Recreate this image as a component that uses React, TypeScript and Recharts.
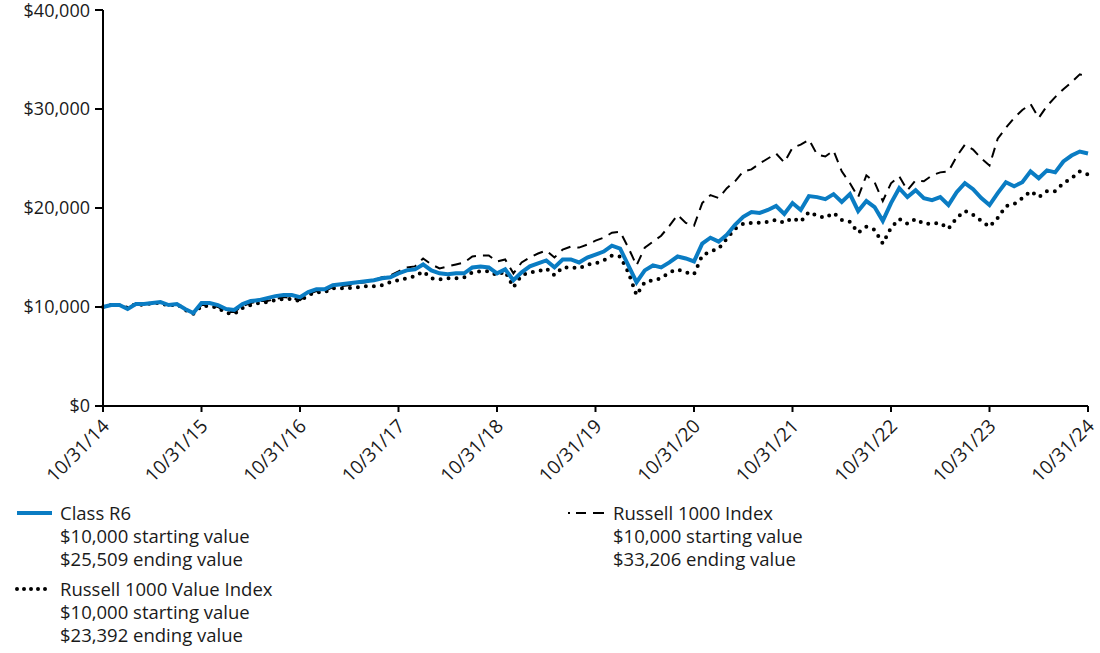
import { LineChart, Line, XAxis, YAxis } from 'recharts'

// growth of $10,000, monthly from 10/31/14 to 10/31/24
const yearLabels = ['10/31/14', '10/31/15', '10/31/16', '10/31/17', '10/31/18', '10/31/19', '10/31/20', '10/31/21', '10/31/22', '10/31/23', '10/31/24']
const yTicks = [0, 10000, 20000, 30000, 40000]

const classR6 = [
  10000, 10200, 10200, 9800, 10300, 10300, 10400, 10500, 10200, 10300, 9800, 9400,
  10400, 10400, 10200, 9800, 9700, 10300, 10600, 10700, 10900, 11100, 11200, 11200,
  11000, 11500, 11800, 11800, 12200, 12300, 12400, 12500, 12600, 12700, 12900, 13000,
  13400, 13700, 13800, 14300, 13700, 13400, 13300, 13400, 13400, 14000, 14100, 14000,
  13400, 13800, 12700, 13500, 14100, 14400, 14700, 14000, 14800, 14800, 14500, 15000,
  15300, 15600, 16200, 15900, 14200, 12500, 13700, 14200, 14000, 14500, 15100, 14900,
  14600, 16400, 17000, 16600, 17300, 18300, 19100, 19600, 19500, 19800, 20200, 19400,
  20500, 19800, 21200, 21100, 20900, 21400, 20600, 21400, 19700, 20700, 20100, 18700,
  20500, 22000, 21100, 21800, 21000, 20800, 21100, 20300, 21600, 22500, 21900, 21000,
  20300, 21500, 22600, 22200, 22600, 23700, 23000, 23800, 23600, 24700, 25300, 25700,
  25509,
]

const russell1000 = [
  10000, 10200, 10200, 9900, 10300, 10300, 10400, 10500, 10300, 10300, 9700, 9400,
  10200, 10200, 10000, 9500, 9500, 10100, 10400, 10600, 10600, 10800, 11000, 10900,
  10700, 11300, 11600, 11600, 12000, 12100, 12200, 12400, 12500, 12700, 13000, 13200,
  13600, 14000, 14100, 14900, 14300, 13900, 14100, 14300, 14500, 15100, 15200, 15200,
  14600, 14800, 13400, 14500, 15000, 15400, 15700, 15000, 15800, 16100, 16000, 16300,
  16700, 17000, 17500, 17600, 16000, 14200, 16000, 16600, 17200, 18200, 19300, 18500,
  18200, 20500, 21300, 21000, 22000, 22700, 23700, 23900, 24500, 25000, 25500, 24600,
  26100, 26400, 26900, 25400, 25200, 25800, 23700, 22500, 21100, 23300, 22600, 20700,
  22500, 23200, 21800, 22800, 22700, 23300, 23600, 23700, 25200, 26400, 25900, 25000,
  24300, 27000, 28100, 29100, 29900, 30500, 29100, 30300, 31200, 32000, 32700, 33500,
  33206,
]

const russell1000Value = [
  10000, 10200, 10200, 9900, 10300, 10200, 10400, 10400, 10100, 10300, 9700, 9300,
  10100, 10100, 9900, 9400, 9300, 9900, 10200, 10400, 10500, 10700, 10800, 10800,
  10600, 11200, 11500, 11500, 11900, 11900, 11900, 12000, 12100, 12100, 12200, 12500,
  12700, 12900, 13100, 13600, 12900, 12800, 12900, 12900, 13000, 13500, 13600, 13600,
  13200, 13600, 12000, 13200, 13500, 13600, 13900, 13200, 14000, 14000, 13900, 14300,
  14400, 14700, 15200, 15100, 13500, 11200, 12500, 12700, 12900, 13500, 13800, 13500,
  13300, 15200, 15600, 15900, 16900, 17900, 18400, 18500, 18500, 18600, 18800, 18500,
  19000, 18600, 19600, 19200, 19000, 19500, 18800, 18600, 17500, 18100, 17800, 16400,
  18000, 18900, 18400, 18900, 18400, 18400, 18500, 17900, 19000, 19700, 19300, 18700,
  18100, 19000, 20200, 20400, 21000, 21700, 21100, 21700, 21700, 22500, 23000, 23700,
  23392,
]

const data = classR6.map((v, i) => ({
  month: i,
  classR6: v,
  russell1000: russell1000[i],
  russell1000Value: russell1000Value[i],
}))

const xTicks = yearLabels.map((_, i) => i * 12)

const FONT = '"Open Sans", sans-serif'
const BLUE = '#0a7cc3'
const TEXT = '#1a1a1a'

const XTick = ({ x, y, payload }: { x?: number; y?: number; payload?: { value: number } }) => {
  if (x == null || y == null || !payload) return null
  return (
    <g transform={`translate(${x - 2},${y + 4})`}>
      <text x={0} y={0} dy="0.7em" textAnchor="end" transform="rotate(-45)" fontSize={19} fill={TEXT} fontFamily={FONT}>
        {yearLabels[payload.value / 12]}
      </text>
    </g>
  )
}

const LegendItem = ({ swatch, lines, left, top }: { swatch: React.ReactNode; lines: string[]; left: number; top: number }) => (
  <div style={{ position: 'absolute', left, top, display: 'flex' }}>
    <svg width={45} height={23} style={{ display: 'block' }}>{swatch}</svg>
    <div style={{ fontSize: 18.5, lineHeight: '23px', color: TEXT, fontFamily: FONT }}>
      {lines.map(l => <div key={l}>{l}</div>)}
    </div>
  </div>
)

export default function App() {
  return (
    <div style={{ position: 'absolute', left: 0, top: 0, width: 1100, height: 653, background: '#fff', fontFamily: FONT }}>
      <LineChart width={1100} height={496} data={data} margin={{ top: 10, right: 12, left: 0, bottom: 0 }}>
        <XAxis
          dataKey="month"
          type="number"
          domain={[0, 120]}
          ticks={xTicks}
          interval={0}
          height={90}
          tickSize={6}
          axisLine={{ stroke: '#000', strokeWidth: 2 }}
          tickLine={{ stroke: '#000', strokeWidth: 2 }}
          tick={<XTick />}
        />
        <YAxis
          domain={[0, 40000]}
          ticks={yTicks}
          width={103}
          tickSize={8}
          tickMargin={5}
          axisLine={{ stroke: '#000', strokeWidth: 2 }}
          tickLine={{ stroke: '#000', strokeWidth: 2 }}
          tick={{ fontSize: 18, fill: TEXT, fontFamily: FONT }}
          tickFormatter={(v: number) => '$' + v.toLocaleString('en-US')}
        />
        <Line dataKey="russell1000" stroke="#000" strokeWidth={2} strokeDasharray="10 7" dot={false} isAnimationActive={false} />
        <Line dataKey="russell1000Value" stroke="#000" strokeWidth={4} strokeDasharray="0 8" strokeLinecap="round" dot={false} isAnimationActive={false} />
        <Line dataKey="classR6" stroke={BLUE} strokeWidth={4} dot={false} isAnimationActive={false} />
      </LineChart>

      <LegendItem
        left={15}
        top={501}
        lines={['Class R6', '$10,000 starting value', '$25,509 ending value']}
        swatch={<line x1={2} x2={37} y1={12} y2={12} stroke={BLUE} strokeWidth={4} />}
      />
      <LegendItem
        left={568}
        top={501}
        lines={['Russell 1000 Index', '$10,000 starting value', '$33,206 ending value']}
        swatch={
          <g stroke="#000" strokeWidth={2}>
            <line x1={0} x2={2} y1={12} y2={12} />
            <line x1={8} x2={18} y1={12} y2={12} />
            <line x1={25} x2={36} y1={12} y2={12} />
          </g>
        }
      />
      <LegendItem
        left={15}
        top={577}
        lines={['Russell 1000 Value Index', '$10,000 starting value', '$23,392 ending value']}
        swatch={<line x1={2} x2={37} y1={12} y2={12} stroke="#000" strokeWidth={4} strokeDasharray="0 7" strokeLinecap="round" />}
      />
    </div>
  )
}
